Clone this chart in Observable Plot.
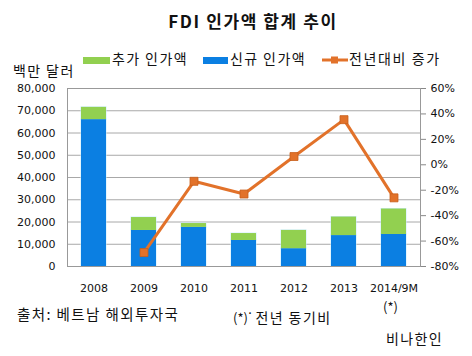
<!DOCTYPE html>
<html><head><meta charset="utf-8">
<script src="https://cdn.jsdelivr.net/npm/d3@7"></script>
<script src="https://cdn.jsdelivr.net/npm/@observablehq/plot@0.6"></script>
<style>
body{margin:0;background:#fff;}
#wrap{position:relative;width:472px;height:356px;overflow:hidden;font-family:"Noto Sans CJK KR","Noto Sans",sans-serif;color:#111;}
.t{position:absolute;white-space:nowrap;line-height:1;}
.k{letter-spacing:1.4px;}
#chart{position:absolute;left:0;top:0;}
.sw{display:inline-block;vertical-align:middle;}
</style></head>
<body><div id="wrap">
<div id="chart"></div>
<div class="t" style="left:0;width:506px;top:12px;text-align:center;font-size:17px;font-weight:bold;letter-spacing:1.6px;">FDI 인가액 합계 추이</div>
<div class="t k" style="left:83px;top:51px;font-size:14px;"><span class="sw" style="width:27px;height:7px;background:#92d050;"></span><span style="margin-left:2px;">추가 인가액</span></div>
<div class="t k" style="left:203px;top:51px;font-size:14px;"><span class="sw" style="width:25px;height:7px;background:#0b7fe2;"></span><span style="margin-left:2px;">신규 인가액</span></div>
<div class="t k" style="left:322px;top:51px;font-size:14px;letter-spacing:1.6px;"><svg class="sw" width="26" height="10"><line x1="0" y1="5" x2="26" y2="5" stroke="#e2722a" stroke-width="3"/><rect x="9" y="1.5" width="7" height="7" fill="#e2722a"/></svg><span style="margin-left:1px;">전년대비 증가</span></div>
<div class="t k" style="left:13px;top:63px;font-size:14px;">백만 달러</div>
<div class="t" style="left:383px;top:300px;font-size:13px;">(*)</div>
<div class="t k" style="left:17px;top:307px;font-size:14.5px;">출처: 베트남 해외투자국</div>
<div class="t" style="left:233px;top:309px;font-size:14px;"><span style="font-size:13px;">(*)</span><sup style="font-size:9px;">˙</sup> <span class="k">전년 동기비</span></div>
<div class="t k" style="left:386px;top:331px;font-size:14px;">비나한인</div>
</div>
<script>
const years = ["2008","2009","2010","2011","2012","2013","2014/9M"];
const newInv = [66000,16200,17600,11700,8000,13900,14400];
const addInv = [5500,5800,1700,3100,8200,8300,11400];
const yoy = [null,-69,-13,-23,6.5,35.5,-26];
const leftTicks = [0,10000,20000,30000,40000,50000,60000,70000,80000];
const pctTicks = [-80,-60,-40,-20,0,20,40,60];
const seriesNames = ["신규 인가액","추가 인가액"];
const colors = ["#0b7fe2","#92d050"];

const yMax = 80000, pMin = -80, pMax = 60;
const toLeft = p => (p - pMin) / (pMax - pMin) * yMax;
const fromLeft = v => Math.round(v / yMax * (pMax - pMin) + pMin);

const bars = [];
years.forEach((y,i)=>{
  bars.push({year:y, series:seriesNames[0], value:newInv[i]});
  bars.push({year:y, series:seriesNames[1], value:addInv[i]});
});
const line = years.map((y,i)=>({year:y, p:yoy[i]})).filter(d=>d.p!==null);

const chart = Plot.plot({
  width:472, height:356,
  marginTop:88, marginBottom:90, marginLeft:67, marginRight:52,
  style:{fontFamily:"DejaVu Sans, sans-serif", fontSize:"11px", color:"#111", background:"transparent"},
  x:{domain:years, paddingInner:0.5, paddingOuter:0.25},
  y:{domain:[0,yMax]},
  color:{domain:seriesNames, range:colors},
  marks:[
    Plot.gridY(leftTicks, {stroke:"#a8a8a8", strokeOpacity:1}),
    Plot.barY(bars, {x:"year", y:"value", fill:"series", order:seriesNames, stroke:"#c8ecfc", strokeWidth:1.2, strokeOpacity:0.8}),
    Plot.barY(bars, {x:"year", y:"value", fill:"series", order:seriesNames}),
    Plot.frame({stroke:"#999"}),
    Plot.axisY(leftTicks, {anchor:"left", tickSize:0, tickPadding:12, tickFormat:d3.format(","), label:null}),
    Plot.axisY(pctTicks.map(toLeft), {anchor:"right", tickSize:5, tickPadding:5, stroke:"#888", tickFormat:v=>fromLeft(v)+"%", label:null}),
    Plot.axisX({tickSize:0, tickPadding:18, label:null}),
    Plot.line(line, {x:"year", y:d=>toLeft(d.p), stroke:"#e2722a", strokeWidth:3}),
    Plot.dot(line, {x:"year", y:d=>toLeft(d.p), symbol:"square", r:4.5, fill:"#e2722a", stroke:"#c85f1c", strokeWidth:0.8})
  ]
});
document.getElementById("chart").appendChild(chart);
</script>
</body></html>
